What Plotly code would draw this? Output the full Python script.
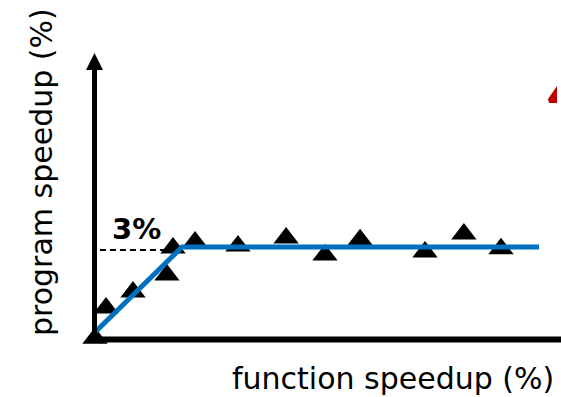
import plotly.graph_objects as go

# Data (x: function speedup, y: program speedup, arbitrary % units)
func_speedup = [0, 0.38, 1.31, 2.48, 2.69, 3.45, 4.93, 6.59, 7.93, 9.14, 11.38, 12.72, 14.0]
prog_speedup = [0.06, 1.03, 1.55, 2.10, 2.97, 3.16, 3.03, 3.29, 2.74, 3.23, 2.84, 3.42, 2.94]

model_x = [0, 3.0, 15.31]
model_y = [0.25, 3.0, 3.0]

threshold_x = [0.17, 2.76]
threshold_y = [2.9, 2.9]
threshold_label = "3%"

x_title = "function speedup (%)"
y_title = "program speedup (%)"

W, H = 561, 397
FONT = "DejaVu Sans"


def px(x):
    return x / W


def py(y):
    return 1 - y / H


fig = go.Figure()

fig.add_trace(go.Scatter(
    x=threshold_x, y=threshold_y, mode="lines",
    line=dict(color="black", width=2, dash="6px,4px"),
    hoverinfo="skip", showlegend=False))

fig.add_trace(go.Scatter(
    x=func_speedup, y=prog_speedup, mode="markers",
    marker=dict(symbol="triangle-up", size=22, color="black", line=dict(width=0)),
    showlegend=False))

fig.add_trace(go.Scatter(
    x=model_x, y=model_y, mode="lines",
    line=dict(color="#0070C0", width=5),
    showlegend=False))

shapes = [
    # y axis line
    dict(type="line", xref="paper", yref="paper", x0=px(94.5), x1=px(94.5),
         y0=py(343), y1=py(66), line=dict(color="black", width=5)),
    # y axis arrow head
    dict(type="path", xref="paper", yref="paper",
         path=f"M {px(86)} {py(70)} L {px(94.5)} {py(53)} L {px(103)} {py(70)} Z",
         fillcolor="black", line=dict(width=0)),
    # x axis line
    dict(type="line", xref="paper", yref="paper", x0=px(92), x1=px(562),
         y0=py(339.5), y1=py(339.5), line=dict(color="black", width=6)),
    # red fragment at right edge
    dict(type="path", xref="paper", yref="paper",
         path=f"M {px(557)} {py(86)} L {px(548)} {py(99)} L {px(549)} {py(103)} L {px(557)} {py(103)} Z",
         fillcolor="#C00000", line=dict(width=0)),
]

annotations = [
    dict(text=threshold_label, x=px(136), y=py(229), xref="paper", yref="paper",
         showarrow=False, font=dict(family=FONT, size=29, color="black", weight="bold"),
         xanchor="center", yanchor="middle"),
    dict(text=x_title, x=px(393), y=py(378), xref="paper", yref="paper",
         showarrow=False, font=dict(family=FONT, size=30, color="black"),
         xanchor="center", yanchor="middle"),
    dict(text=y_title, x=px(41), y=py(172), xref="paper", yref="paper",
         showarrow=False, textangle=-90, font=dict(family=FONT, size=30, color="black"),
         xanchor="center", yanchor="middle"),
]

fig.update_layout(
    width=W, height=H,
    margin=dict(l=0, r=0, t=0, b=0),
    paper_bgcolor="white", plot_bgcolor="white",
    xaxis=dict(range=[-95 / 29, 466 / 29], visible=False, fixedrange=True),
    yaxis=dict(range=[-57 / 31, 340 / 31], visible=False, fixedrange=True),
    shapes=shapes, annotations=annotations,
    showlegend=False,
)

fig.write_html(
    "out.html",
    config={"displayModeBar": False},
    post_script="document.body.style.margin='0';document.body.style.overflow='hidden';",
)
